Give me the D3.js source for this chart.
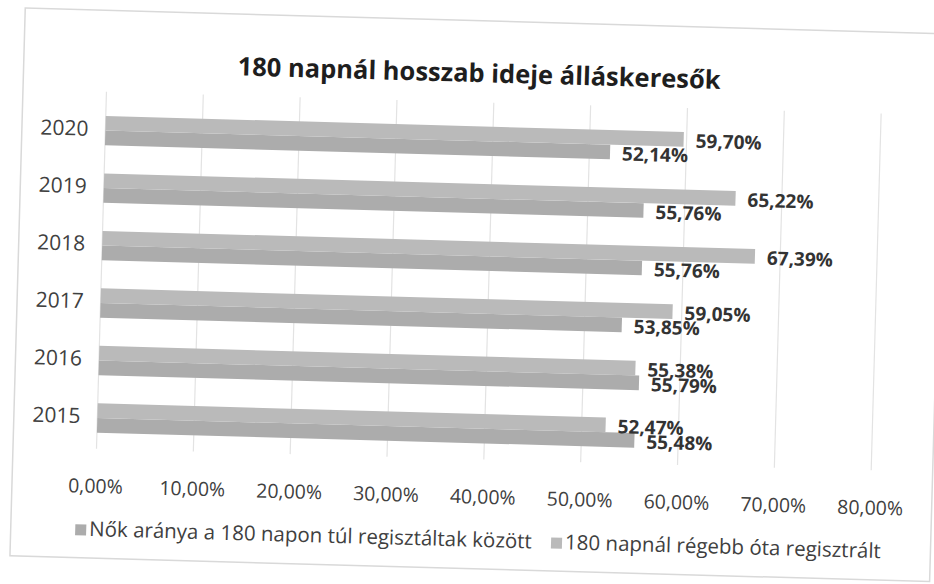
<!DOCTYPE html>
<html>
<head>
<meta charset="utf-8">
<script src="https://cdn.jsdelivr.net/npm/d3@7"></script>
<style>
  body { margin: 0; background: #fff; }
  svg { display: block; }
</style>
</head>
<body>
<script>
const width = 934;
const height = 584;

const years = ["2015", "2016", "2017", "2018", "2019", "2020"];
// first series is drawn at the bottom of each pair (Excel order)
const nokArany = [55.48, 55.79, 53.85, 55.76, 55.76, 52.14];
const regisztralt = [52.47, 55.38, 59.05, 67.39, 65.22, 59.70];
const seriesNames = [
  "Nők aránya a 180 napon túl regisztáltak között",
  "180 napnál régebb óta regisztrált"
];
const xTicks = [0, 10, 20, 30, 40, 50, 60, 70, 80];
const title = "180 napnál hosszab ideje álláskeresők";

const colors = ["#acacac", "#bababa"];
const font = "'Open Sans', 'Noto Sans', sans-serif";

const margin = { top: 112, right: 58, bottom: 127, left: 101 };

const series = [nokArany, regisztralt];

const x = d3.scaleLinear()
  .domain([0, 80])
  .range([margin.left, width - margin.right]);

const y = d3.scaleBand()
  .domain(years.slice().reverse())
  .range([margin.top, height - margin.bottom])
  .paddingInner(0.49)
  .paddingOuter(0.245);

const ySeries = d3.scaleBand()
  .domain([1, 0])
  .range([0, y.bandwidth()]);

const fmt = v => d3.format(".2f")(v).replace(".", ",") + "%";

const svg = d3.select("body").append("svg")
  .attr("width", width)
  .attr("height", height);

// the reference is a slightly tilted scan
const g = svg.append("g")
  .attr("transform", "rotate(1.6 467 292)");

// chart frame
g.append("rect")
  .attr("x", 17.5)
  .attr("y", 20.5)
  .attr("width", 920)
  .attr("height", 548)
  .attr("fill", "#fff")
  .attr("stroke", "#d9d9d9")
  .attr("stroke-width", 1.5);

g.append("text")
  .attr("x", 473)
  .attr("y", 75)
  .attr("text-anchor", "middle")
  .attr("dominant-baseline", "middle")
  .style("font-family", font)
  .style("font-weight", "bold")
  .style("font-size", "25.5px")
  .attr("fill", "#1e1e1e")
  .text(title);

// gridlines
g.append("g")
  .selectAll("line")
  .data(xTicks)
  .join("line")
  .attr("x1", d => x(d))
  .attr("x2", d => x(d))
  .attr("y1", margin.top - 10)
  .attr("y2", height - margin.bottom + 2)
  .attr("stroke", "#e3e3e3")
  .attr("stroke-width", 1.2);

// x tick labels
g.append("g")
  .selectAll("text")
  .data(xTicks)
  .join("text")
  .attr("x", d => x(d))
  .attr("y", 498)
  .attr("text-anchor", "middle")
  .attr("dominant-baseline", "middle")
  .style("font-family", font)
  .style("font-size", "19.5px")
  .attr("fill", "#404040")
  .text(d => fmt(d));

// year labels
g.append("g")
  .selectAll("text")
  .data(years)
  .join("text")
  .attr("x", 84)
  .attr("y", d => y(d) + y.bandwidth() / 2)
  .attr("text-anchor", "end")
  .attr("dominant-baseline", "middle")
  .style("font-family", font)
  .style("font-size", "21px")
  .attr("fill", "#404040")
  .text(d => d);

// bars
series.forEach((vals, si) => {
  const sg = g.append("g");
  sg.selectAll("rect")
    .data(vals)
    .join("rect")
    .attr("x", x(0))
    .attr("y", (d, i) => y(years[i]) + ySeries(si))
    .attr("width", d => x(d) - x(0))
    .attr("height", ySeries.bandwidth())
    .attr("fill", colors[si]);

  sg.selectAll("text")
    .data(vals)
    .join("text")
    .attr("x", d => x(d) + 12)
    .attr("y", (d, i) => y(years[i]) + ySeries(si) + ySeries.bandwidth() / 2 + 3)
    .attr("dominant-baseline", "middle")
    .style("font-family", font)
    .style("font-weight", "bold")
    .style("font-size", "19px")
    .attr("fill", "#333")
    .text(d => fmt(d));
});

// legend
const legendX = [82, 558];
const legend = g.append("g");
seriesNames.forEach((name, i) => {
  legend.append("rect")
    .attr("x", legendX[i])
    .attr("y", 535)
    .attr("width", 11)
    .attr("height", 11)
    .attr("fill", colors[i]);
  legend.append("text")
    .attr("x", legendX[i] + 14)
    .attr("y", 541)
    .attr("dominant-baseline", "middle")
    .style("font-family", font)
    .style("font-size", "20.5px")
    .attr("fill", "#404040")
    .text(name);
});
</script>
</body>
</html>
